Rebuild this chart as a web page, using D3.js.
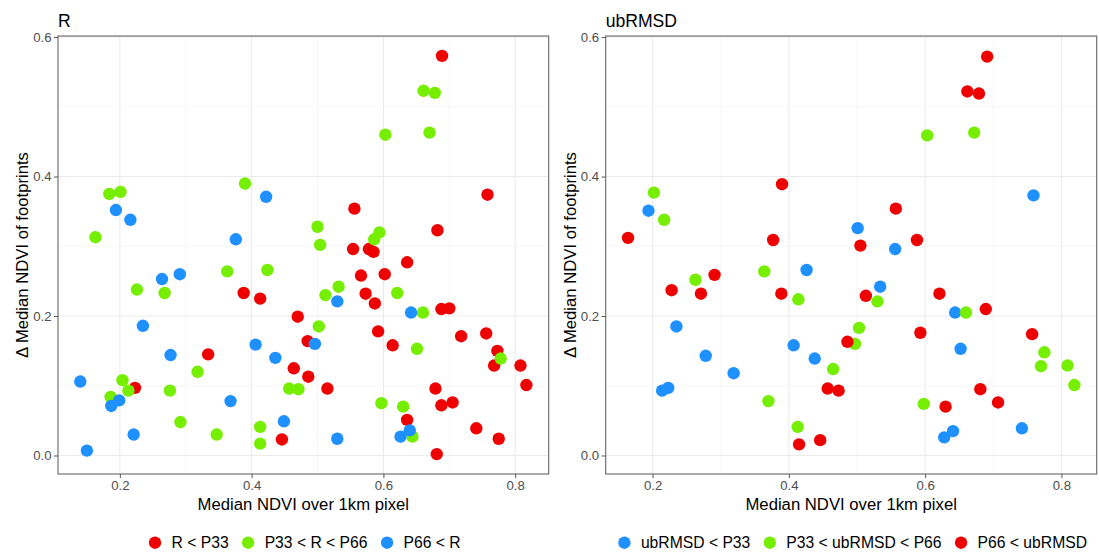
<!DOCTYPE html>
<html>
<head>
<meta charset="utf-8">
<script src="https://cdn.jsdelivr.net/npm/d3@7"></script>
<style>
  html, body { margin: 0; padding: 0; background: #fff; }
  svg { display: block; font-family: "Liberation Sans", Arial, sans-serif; }
</style>
</head>
<body>
<div id="chart"></div>
<script>
// Two scatter panels: delta of footprint NDVI vs 1km-pixel NDVI, coloured by R / ubRMSD tercile.
const W = 1099, H = 554;

const RED = '#EE0000', GREEN = '#76EE00', BLUE = '#1E90FF';

// ---- panel R : [median NDVI 1km, delta median NDVI]
const rLow = [
  [0.689, 0.573], [0.758, 0.374], [0.556, 0.354], [0.682, 0.323], [0.554, 0.296],
  [0.578, 0.296], [0.585, 0.292], [0.636, 0.277], [0.566, 0.258], [0.602, 0.260],
  [0.573, 0.232], [0.587, 0.218], [0.688, 0.210], [0.700, 0.211], [0.470, 0.199],
  [0.592, 0.178], [0.614, 0.158], [0.718, 0.171], [0.756, 0.175], [0.773, 0.150],
  [0.768, 0.129], [0.808, 0.129], [0.817, 0.101], [0.485, 0.164], [0.464, 0.125],
  [0.486, 0.113], [0.515, 0.096], [0.679, 0.096], [0.688, 0.072], [0.705, 0.076],
  [0.636, 0.051], [0.446, 0.023], [0.741, 0.039], [0.775, 0.024], [0.681, 0.002],
  [0.388, 0.233], [0.413, 0.225], [0.334, 0.145], [0.223, 0.097]
];
const rMid = [
  [0.184, 0.375], [0.201, 0.378], [0.163, 0.313], [0.390, 0.390], [0.661, 0.523],
  [0.678, 0.520], [0.603, 0.460], [0.670, 0.463], [0.500, 0.328], [0.594, 0.320],
  [0.586, 0.310], [0.504, 0.302], [0.532, 0.242], [0.512, 0.230], [0.621, 0.233],
  [0.660, 0.205], [0.502, 0.185], [0.651, 0.153], [0.778, 0.139], [0.457, 0.096],
  [0.471, 0.095], [0.597, 0.075], [0.630, 0.070], [0.644, 0.027], [0.226, 0.238],
  [0.268, 0.233], [0.363, 0.264], [0.424, 0.266], [0.318, 0.120], [0.204, 0.108],
  [0.213, 0.093], [0.276, 0.093], [0.186, 0.084], [0.292, 0.048], [0.413, 0.041],
  [0.347, 0.030], [0.413, 0.017]
];
const rHigh = [
  [0.194, 0.352], [0.216, 0.338], [0.422, 0.371], [0.376, 0.310], [0.530, 0.221],
  [0.642, 0.205], [0.496, 0.160], [0.436, 0.140], [0.626, 0.027], [0.640, 0.036],
  [0.449, 0.049], [0.530, 0.024], [0.264, 0.253], [0.291, 0.260], [0.235, 0.186],
  [0.406, 0.159], [0.277, 0.144], [0.140, 0.106], [0.199, 0.079], [0.187, 0.071],
  [0.368, 0.078], [0.221, 0.030], [0.150, 0.007]
];

// ---- panel ubRMSD
const uLow = [
  [0.194, 0.351], [0.759, 0.373], [0.501, 0.326], [0.556, 0.296], [0.534, 0.242],
  [0.644, 0.205], [0.652, 0.153], [0.641, 0.035], [0.628, 0.026], [0.742, 0.039],
  [0.438, 0.139], [0.426, 0.266], [0.235, 0.185], [0.407, 0.158], [0.278, 0.143],
  [0.319, 0.118], [0.214, 0.093], [0.223, 0.097]
];
const uMid = [
  [0.202, 0.377], [0.217, 0.338], [0.603, 0.459], [0.672, 0.463], [0.530, 0.221],
  [0.660, 0.205], [0.503, 0.183], [0.497, 0.160], [0.775, 0.148], [0.770, 0.128],
  [0.809, 0.129], [0.819, 0.101], [0.465, 0.124], [0.598, 0.074], [0.263, 0.252],
  [0.364, 0.264], [0.414, 0.224], [0.370, 0.078], [0.413, 0.041]
];
const uHigh = [
  [0.164, 0.312], [0.390, 0.389], [0.377, 0.309], [0.691, 0.572], [0.662, 0.522],
  [0.679, 0.519], [0.557, 0.354], [0.505, 0.301], [0.588, 0.309], [0.513, 0.229],
  [0.621, 0.232], [0.689, 0.210], [0.486, 0.163], [0.593, 0.176], [0.757, 0.174],
  [0.457, 0.096], [0.473, 0.093], [0.681, 0.095], [0.707, 0.076], [0.630, 0.070],
  [0.446, 0.022], [0.228, 0.237], [0.291, 0.259], [0.271, 0.232], [0.389, 0.232],
  [0.415, 0.016]
];

const rLabels = ['R < P33', 'P33 < R < P66', 'P66 < R'];
const uLabels = ['ubRMSD < P33', 'P33 < ubRMSD < P66', 'P66 < ubRMSD'];

const xMajor = [0.2, 0.4, 0.6, 0.8], xMinor = [0.1, 0.3, 0.5, 0.7];
const yMajor = [0, 0.2, 0.4, 0.6], yMinor = [0.1, 0.3, 0.5];

const panels = [
  { title: 'R', x0: 58, x1: 548.7,
    groups: [{ pts: rLow, color: RED, label: rLabels[0] },
             { pts: rMid, color: GREEN, label: rLabels[1] },
             { pts: rHigh, color: BLUE, label: rLabels[2] }],
    legend: [0, 1, 2] },
  { title: 'ubRMSD', x0: 605.7, x1: 1096.7,
    groups: [{ pts: uLow, color: BLUE, label: uLabels[0] },
             { pts: uMid, color: GREEN, label: uLabels[1] },
             { pts: uHigh, color: RED, label: uLabels[2] }],
    legend: [0, 1, 2] }
];

const TOP = 36, BOTTOM = 474;

// ggplot-style 5% expansion
function expand([a, b]) { const d = (b - a) * 0.05; return [a - d, b + d]; }

const allY = [...rLow, ...rMid, ...rHigh, ...uLow, ...uMid, ...uHigh].map(p => p[1]);
const y = d3.scaleLinear().domain(expand(d3.extent(allY))).range([BOTTOM, TOP]);

const svg = d3.select('#chart').append('svg').attr('width', W).attr('height', H);

panels.forEach(p => {
  const pts = p.groups.flatMap(g => g.pts);
  const x = d3.scaleLinear().domain(expand(d3.extent(pts, d => d[0]))).range([p.x0, p.x1]);
  const g = svg.append('g');

  // grid
  const inX = v => x(v) >= p.x0 && x(v) <= p.x1;
  g.selectAll('line.xmin').data(xMinor.filter(inX)).join('line')
    .attr('x1', d => x(d)).attr('x2', d => x(d)).attr('y1', TOP).attr('y2', BOTTOM)
    .attr('stroke', '#F2F2F2').attr('stroke-width', 0.6);
  g.selectAll('line.ymin').data(yMinor).join('line')
    .attr('x1', p.x0).attr('x2', p.x1).attr('y1', d => y(d)).attr('y2', d => y(d))
    .attr('stroke', '#F2F2F2').attr('stroke-width', 0.6);
  g.selectAll('line.xmaj').data(xMajor.filter(inX)).join('line')
    .attr('x1', d => x(d)).attr('x2', d => x(d)).attr('y1', TOP).attr('y2', BOTTOM)
    .attr('stroke', '#EBEBEB').attr('stroke-width', 1.1);
  g.selectAll('line.ymaj').data(yMajor).join('line')
    .attr('x1', p.x0).attr('x2', p.x1).attr('y1', d => y(d)).attr('y2', d => y(d))
    .attr('stroke', '#EBEBEB').attr('stroke-width', 1.1);

  // points
  p.groups.forEach(grp => {
    g.append('g').selectAll('circle').data(grp.pts).join('circle')
      .attr('cx', d => x(d[0])).attr('cy', d => y(d[1])).attr('r', 6.2)
      .attr('fill', grp.color);
  });

  // border
  g.append('rect').attr('x', p.x0).attr('y', TOP)
    .attr('width', p.x1 - p.x0).attr('height', BOTTOM - TOP)
    .attr('fill', 'none').attr('stroke', '#666').attr('stroke-width', 1.1);

  // axes
  const ax = g.append('g').attr('transform', `translate(0,${BOTTOM})`)
    .call(d3.axisBottom(x).tickValues(xMajor).tickFormat(d3.format('.1f')).tickSize(4).tickPadding(3));
  const ay = g.append('g').attr('transform', `translate(${p.x0},0)`)
    .call(d3.axisLeft(y).tickValues(yMajor).tickFormat(d3.format('.1f')).tickSize(4).tickPadding(2.5));
  [ax, ay].forEach(a => {
    a.select('.domain').remove();
    a.selectAll('line').attr('stroke', '#555');
    a.selectAll('text').attr('fill', '#4D4D4D').attr('font-size', 13.2)
      .attr('font-family', '"Liberation Sans", Arial, sans-serif');
  });

  // titles
  g.append('text').attr('x', p.x0).attr('y', 27).attr('font-size', 17.6).text(p.title);
  g.append('text').attr('x', (p.x0 + p.x1) / 2).attr('y', 510)
    .attr('text-anchor', 'middle').attr('font-size', 16.7).text('Median NDVI over 1km pixel');
  g.append('text')
    .attr('transform', `translate(${p.x0 - 29.8},${(TOP + BOTTOM) / 2}) rotate(-90)`)
    .attr('text-anchor', 'middle').attr('font-size', 16.7).text('\u0394 Median NDVI of footprints');

  // legend
  const lg = g.append('g');
  const items = p.legend.map(i => p.groups[i]);
  const texts = items.map(it => lg.append('text').attr('font-size', 15.7)
    .attr('y', 548).text(it.label));
  const widths = texts.map(t => t.node().getComputedTextLength());
  const keyToText = 16.5, textToKey = 19.5, r = 6.2;
  let total = r;
  widths.forEach((w, i) => { total += keyToText + w + (i < widths.length - 1 ? textToKey : 0); });
  total += r;
  let cx = (p.x0 + p.x1) / 2 + 4.5 - total / 2 + r;
  items.forEach((it, i) => {
    lg.append('circle').attr('cx', cx).attr('cy', 542.7).attr('r', r).attr('fill', it.color);
    texts[i].attr('x', cx + keyToText);
    cx += keyToText + widths[i] + textToKey;
  });
});
</script>
</body>
</html>
